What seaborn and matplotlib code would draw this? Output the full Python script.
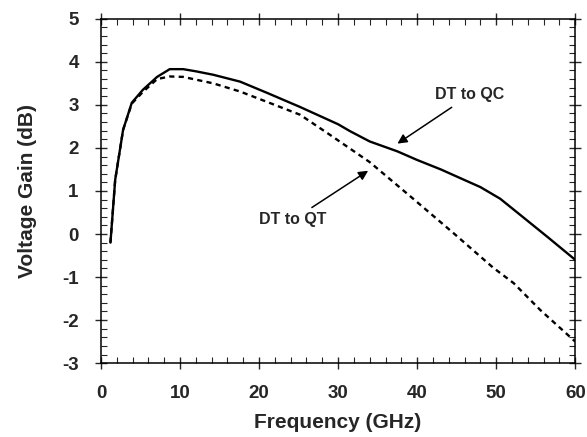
#Import Libraries
import pandas as pd
import matplotlib.pyplot as plt
import seaborn as sns
from matplotlib.ticker import MultipleLocator

#Data
freq_qc = [1.2, 1.8, 2.8, 3.9, 5.3, 7.1, 8.7, 10.4, 12, 14.2, 17.6, 21, 25.2, 30, 31.5,
           34, 37.5, 40, 43, 45.8, 48, 50.5, 53, 56.5, 60]
gain_qc = [-0.2, 1.26, 2.42, 3.05, 3.35, 3.65, 3.83, 3.83, 3.78, 3.7, 3.54, 3.28, 2.95, 2.55, 2.39,
           2.15, 1.92, 1.72, 1.5, 1.27, 1.09, 0.82, 0.45, -0.07, -0.6]

freq_qt = [1.2, 1.8, 2.8, 3.9, 5.3, 7.1, 8.7, 10.4, 14.2, 17.6, 21, 25.2, 29, 34,
           39.3, 44.6, 49.6, 52.2, 55.6, 60]
gain_qt = [-0.2, 1.26, 2.42, 3.03, 3.3, 3.6, 3.66, 3.65, 3.5, 3.31, 3.07, 2.77, 2.3, 1.67,
           0.85, 0.02, -0.78, -1.14, -1.77, -2.5]

qc = pd.DataFrame({'Frequency': freq_qc, 'Gain': gain_qc})
qt = pd.DataFrame({'Frequency': freq_qt, 'Gain': gain_qt})

#Style
sns.set_style('ticks')
plt.rcParams['font.family'] = ['Liberation Sans', 'DejaVu Sans']
plt.rcParams['font.weight'] = 'bold'
plt.rcParams['axes.unicode_minus'] = False

fig = plt.figure(figsize=(5.87, 4.37), dpi=100)
ax = fig.add_axes([0.172, 0.169, 0.808, 0.788])

sns.lineplot(data=qc, x='Frequency', y='Gain', ax=ax, color='black', linewidth=1.7)
sns.lineplot(data=qt, x='Frequency', y='Gain', ax=ax, color='black', linewidth=1.7)
ax.lines[-1].set_dashes((2.2, 1.8))

#Annotations
ax.annotate('DT to QC', xy=(37.5, 2.1), xytext=(46.7, 3.23), ha='center', va='center',
            fontsize=11.5, fontweight='bold',
            arrowprops=dict(arrowstyle='-|>', color='black', lw=1.1, mutation_scale=14,
                            shrinkA=2, shrinkB=0))
ax.annotate('DT to QT', xy=(33.8, 1.47), xytext=(24.3, 0.33), ha='center', va='center',
            fontsize=11.5, fontweight='bold',
            arrowprops=dict(arrowstyle='-|>', color='black', lw=1.1, mutation_scale=14,
                            shrinkA=2, shrinkB=0))

#Axes
ax.set_xlim(0, 60)
ax.set_ylim(-3, 5)
ax.xaxis.set_major_locator(MultipleLocator(10))
ax.xaxis.set_minor_locator(MultipleLocator(2))
ax.yaxis.set_major_locator(MultipleLocator(1))
ax.yaxis.set_minor_locator(MultipleLocator(0.2))
ax.tick_params(which='major', direction='inout', length=8, width=1, labelsize=13.5,
               top=True, right=True)
ax.tick_params(axis='x', which='major', pad=12)
ax.tick_params(axis='y', which='major', pad=12)
ax.tick_params(which='minor', direction='in', length=4, width=0.8, top=True, right=True)
for lab in ax.get_xticklabels() + ax.get_yticklabels():
    lab.set_fontweight('bold')
for side in ax.spines.values():
    side.set_linewidth(1.1)
    side.set_color('black')

ax.set_xlabel('Frequency (GHz)', fontsize=15, fontweight='bold', labelpad=8)
ax.set_ylabel('Voltage Gain (dB)', fontsize=15, fontweight='bold', labelpad=18)

plt.savefig('out.png', dpi=100)
